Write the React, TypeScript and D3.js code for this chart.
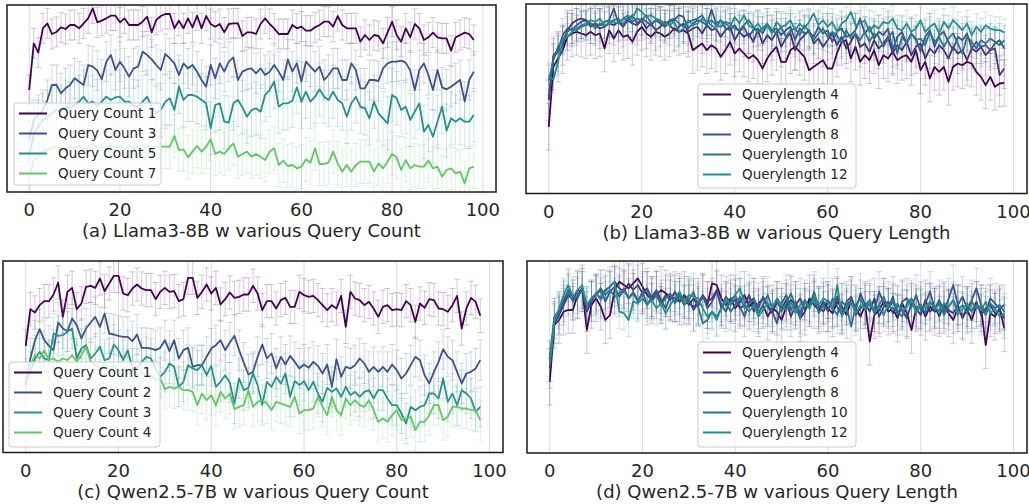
import React from "react";
import * as d3 from "d3";

// x axis: training step index 0..98
const steps = d3.range(99);
const xTicks = [0, 20, 40, 60, 80, 100];

// ---- (a) Llama3-8B, query count ----
const llamaCountNames = ["Query Count 1", "Query Count 3", "Query Count 5", "Query Count 7"];
const llamaCount1 = [30.6, 44.6, 41.8, 49.1, 50.6, 47.4, 48.0, 49.4, 48.9, 50.1,
  50.1, 49.1, 50.6, 52.1, 55.1, 50.9, 51.4, 52.1, 52.9, 52.9,
  50.9, 52.1, 50.1, 50.1, 50.1, 51.1, 52.6, 47.9, 51.6, 52.8,
  53.4, 53.4, 49.1, 51.4, 49.1, 52.1, 49.4, 52.9, 49.1, 52.8,
  50.4, 49.6, 50.4, 47.9, 50.4, 50.6, 50.6, 46.8, 47.9, 47.9,
  47.4, 50.4, 52.1, 50.4, 49.1, 47.4, 47.4, 47.4, 50.1, 49.1,
  49.6, 48.4, 48.4, 49.4, 50.1, 51.1, 51.1, 49.6, 52.8, 50.1,
  49.1, 49.1, 49.1, 45.1, 47.1, 45.6, 47.1, 46.8, 44.6, 47.9,
  51.1, 47.1, 45.1, 49.1, 46.4, 50.4, 49.1, 45.6, 46.4, 47.8,
  46.4, 46.1, 46.1, 42.4, 46.4, 47.1, 47.8, 47.4, 45.6];
const llamaCount3 = [15.6, 21.6, 23.1, 24.6, 27.6, 32.1, 32.1, 29.6, 31.1, 32.1,
  34.1, 33.1, 32.1, 38.1, 37.6, 36.4, 33.8, 39.1, 41.1, 36.6,
  39.1, 37.1, 34.6, 37.1, 37.6, 42.1, 41.1, 39.8, 38.1, 36.6,
  41.4, 40.1, 38.6, 35.1, 38.6, 37.1, 38.1, 36.1, 33.6, 31.6,
  38.1, 34.1, 38.6, 36.1, 39.1, 40.4, 33.6, 36.1, 36.8, 37.1,
  35.6, 37.1, 35.1, 36.1, 38.1, 36.1, 33.6, 39.8, 36.1, 38.6,
  33.1, 39.1, 37.6, 36.1, 37.6, 33.6, 35.1, 37.1, 37.1, 33.6,
  33.6, 38.6, 36.6, 31.1, 31.1, 33.6, 33.6, 33.3, 37.1, 38.6,
  39.1, 39.1, 39.4, 38.8, 36.4, 30.6, 36.6, 38.6, 35.1, 30.6,
  36.6, 31.4, 30.8, 31.6, 32.6, 33.6, 27.1, 33.6, 36.1];
const llamaCount5 = [10.6, 17.6, 19.6, 21.6, 22.6, 23.6, 24.6, 24.1, 25.6, 25.1, 26.1, 27.1,
  28.6, 26.6, 27.1, 25.8, 27.1, 28.6, 27.6, 28.4, 28.6, 27.1,
  27.1, 25.8, 25.6, 27.1, 28.6, 25.6, 23.6, 24.6, 27.1, 28.1,
  24.6, 31.6, 27.6, 29.1, 29.1, 28.6, 27.6, 26.6, 19.1, 26.1,
  26.6, 21.1, 20.8, 26.6, 27.6, 25.4, 22.6, 24.6, 25.1, 24.1,
  29.1, 30.6, 33.1, 25.6, 26.6, 26.6, 27.4, 31.4, 27.1, 30.1,
  27.1, 28.6, 30.8, 28.6, 27.6, 30.1, 27.6, 26.6, 22.6, 26.6,
  28.6, 25.6, 25.1, 22.1, 27.1, 23.6, 22.1, 20.6, 29.1, 28.1,
  24.6, 25.6, 21.6, 24.1, 26.6, 18.1, 20.1, 16.6, 21.1, 25.6,
  18.4, 22.1, 21.1, 22.1, 21.1, 21.1, 23.1];
const llamaCount7 = [4.6, 9.6, 10.6, 12.1, 12.6, 13.1, 13.6, 12.8, 12.1, 13.6,
  13.1, 13.8, 12.6, 13.4, 14.6, 13.1, 13.6, 12.8, 14.1, 13.1,
  13.6, 12.6, 13.8, 13.1, 13.6, 12.4, 14.1, 13.1, 13.6,
  13.6, 13.6, 13.6, 16.8, 12.6, 12.8, 10.4, 12.1, 13.8, 12.1,
  13.6, 15.8, 11.4, 12.1, 11.4, 13.1, 14.6, 10.6, 11.4, 12.1,
  10.6, 11.4, 10.6, 9.6, 12.1, 13.1, 8.1, 9.4, 7.8, 8.1,
  7.1, 7.6, 9.8, 8.8, 13.1, 8.4, 8.4, 8.8, 12.1, 8.6,
  6.1, 8.1, 6.1, 8.1, 9.1, 9.1, 9.1, 6.1, 8.6, 7.1,
  9.1, 11.4, 10.4, 6.6, 9.6, 7.1, 8.1, 7.6, 7.6, 9.4,
  7.1, 7.6, 4.6, 6.6, 7.1, 5.6, 6.1, 2.6, 7.1, 7.6];
const llamaCountErr = [4.5, 6, 8, 6.5];

// ---- (b) Llama3-8B, query length ----
const lengthNames = ["Querylength 4", "Querylength 6", "Querylength 8", "Querylength 10", "Querylength 12"];
const llamaLen4 = [20.0, 38.0, 40.5, 43.0, 47.0, 48.0, 48.5, 48.0, 47.5, 48.5,
  47.5, 48.0, 43.5, 49.0, 46.5, 49.0, 47.0, 47.5, 45.5, 48.5,
  50.0, 48.0, 47.0, 48.5, 48.0, 47.0, 48.0, 49.5, 48.5, 49.0,
  48.0, 43.0, 44.0, 45.0, 43.0, 44.5, 43.5, 41.0, 43.0, 45.5,
  42.0, 43.5, 42.0, 40.5, 41.5, 40.0, 37.5, 40.5, 42.5, 44.0,
  39.5, 39.5, 43.0, 44.0, 42.5, 41.0, 37.0, 38.0, 39.0, 40.0,
  37.5, 37.5, 42.0, 45.5, 46.0, 40.5, 44.0, 39.5, 41.5, 40.0,
  43.0, 38.5, 41.5, 40.5, 42.5, 40.0, 41.0, 41.5, 39.5, 43.0,
  37.0, 39.5, 34.5, 38.0, 36.5, 38.0, 33.5, 38.0, 39.0, 38.5,
  39.5, 39.0, 36.5, 35.0, 32.5, 35.0, 32.0, 33.0, 33.2];
const llamaLen6 = [28.0, 41.0, 42.5, 44.5, 49.0, 51.0, 52.0, 52.5, 52.0, 51.0,
  50.5, 49.5, 50.0, 51.0, 50.5, 51.5, 50.0, 52.0, 51.0, 50.5,
  52.0, 49.5, 51.0, 49.0, 50.0, 51.5, 50.5, 49.0, 50.0, 51.0,
  48.5, 49.5, 50.0, 48.0, 50.5, 49.0, 49.5, 47.0, 49.0, 50.0,
  46.0, 48.5, 47.0, 48.0, 45.5, 49.0, 45.0, 47.5, 46.0, 48.5,
  44.0, 46.5, 48.0, 43.0, 46.0, 47.5, 49.0, 45.0, 46.5, 44.0,
  46.0, 48.0, 44.5, 47.0, 43.5, 45.5, 48.0, 44.0, 45.0, 42.5,
  46.0, 43.5, 45.0, 47.0, 42.0, 44.5, 43.0, 45.5, 41.5, 44.0,
  45.0, 40.5, 43.5, 42.0, 44.5, 43.0, 40.5, 44.0, 42.0, 43.0,
  40.0, 43.5, 42.5, 44.0, 41.5, 43.0, 43.5, 35.5, 37.5];
const llamaLen8 = [29.0, 41.5, 43.0, 47.5, 49.5, 49.0, 50.5, 51.5, 52.0, 50.0,
  51.0, 50.5, 51.5, 52.0, 55.5, 51.0, 52.5, 52.0, 53.5, 51.0,
  52.5, 51.5, 50.5, 52.0, 51.0, 50.0, 51.5, 52.0, 53.5, 53.0,
  49.5, 51.0, 52.0, 51.5, 50.5, 55.2, 51.0, 52.0, 49.5, 49.0,
  50.5, 48.5, 50.0, 47.0, 49.0, 49.5, 48.0, 50.5, 48.5, 49.5,
  47.5, 49.0, 50.0, 46.0, 49.5, 48.0, 48.5, 47.0, 50.0, 48.0,
  49.0, 45.5, 48.5, 49.5, 47.0, 47.5, 49.0, 52.5, 48.0, 50.0,
  46.5, 48.5, 47.5, 49.5, 43.0, 47.0, 48.5, 45.0, 48.0, 46.5,
  42.5, 47.0, 49.0, 44.0, 47.5, 48.5, 45.5, 43.0, 47.0, 46.0,
  48.0, 43.5, 45.5, 44.0, 44.5, 43.0, 45.0, 46.0, 43.5];
const llamaLen10 = [34.0, 40.0, 44.0, 46.0, 48.5, 49.5, 49.0, 50.0, 50.5, 51.0,
  49.5, 51.0, 50.0, 51.5, 52.0, 52.5, 50.5, 53.0, 51.5, 52.5,
  52.0, 53.5, 51.0, 52.0, 51.5, 50.5, 52.0, 52.5, 51.0, 50.0,
  51.5, 52.0, 52.5, 53.5, 51.0, 52.0, 50.5, 50.0, 51.5, 51.0,
  49.5, 49.0, 50.5, 52.0, 50.0, 48.5, 49.5, 51.0, 49.0, 48.0,
  50.0, 47.0, 49.0, 49.5, 47.5, 50.5, 48.5, 46.0, 48.0, 49.5,
  47.0, 48.5, 47.5, 45.0, 49.0, 46.5, 48.0, 46.0, 48.5, 45.5,
  48.0, 47.0, 44.0, 46.5, 48.5, 42.0, 47.0, 45.0, 48.0, 46.0,
  46.5, 44.5, 48.5, 45.5, 47.0, 44.0, 46.5, 48.0, 45.0, 42.0,
  47.0, 45.5, 43.5, 46.0, 45.0, 46.5, 45.5, 44.5, 46.0];
const llamaLen12 = [35.2, 34.2, 39.5, 46.0, 47.0, 48.5, 49.5, 50.5, 51.0, 52.0,
  51.5, 52.5, 50.5, 51.0, 51.5, 51.0, 52.5, 53.5, 52.5, 55.5,
  54.5, 53.0, 53.5, 52.5, 52.0, 51.0, 50.5, 51.5, 48.5, 49.5,
  52.0, 50.5, 51.0, 52.5, 51.5, 50.5, 49.5, 52.0, 51.0, 50.0,
  53.0, 51.0, 53.5, 50.5, 49.5, 51.0, 49.0, 50.5, 48.0, 51.5,
  50.0, 50.5, 52.0, 49.0, 51.0, 49.5, 51.5, 54.0, 50.5, 52.0,
  50.0, 51.5, 48.5, 51.0, 52.0, 54.5, 50.5, 51.0, 52.0, 48.5,
  50.5, 49.5, 51.5, 51.0, 52.5, 49.5, 49.0, 51.0, 48.5, 49.5,
  52.0, 48.5, 50.0, 51.0, 48.0, 51.5, 49.5, 52.0, 50.5, 49.0,
  51.0, 47.5, 50.0, 48.5, 50.5, 49.5, 49.0, 49.0, 48.3];
const llamaLenErr = [7, 6, 5, 4.5, 4];

// ---- (c) Qwen2.5-7B, query count ----
const qwenCountNames = ["Query Count 1", "Query Count 2", "Query Count 3", "Query Count 4"];
const qwenCount1 = [32.0, 43.0, 42.0, 44.2, 45.4, 45.4, 47.4, 51.0, 40.7, 48.2,
  49.4, 43.0, 44.7, 49.7, 50.0, 49.4, 52.2, 48.4, 50.7, 53.0,
  53.0, 47.7, 47.2, 49.2, 50.4, 49.2, 48.7, 48.7, 46.0, 48.2,
  49.4, 48.2, 48.4, 45.4, 46.0, 52.4, 52.4, 46.4, 48.2, 50.4,
  47.7, 49.4, 44.4, 46.0, 48.0, 46.4, 46.7, 47.4, 47.4, 50.0,
  47.7, 42.7, 45.4, 45.4, 43.2, 45.7, 46.4, 43.7, 43.7, 48.2,
  47.2, 46.7, 47.0, 45.7, 44.2, 42.7, 44.2, 43.2, 47.0, 37.7,
  48.2, 46.2, 45.7, 44.2, 45.2, 43.2, 40.7, 43.7, 44.2, 42.7,
  43.0, 42.7, 45.4, 44.2, 39.2, 44.7, 43.4, 46.0, 45.7, 43.2,
  43.0, 42.2, 44.2, 47.0, 37.2, 43.2, 46.4, 45.2, 41.0];
const qwenCount2 = [20.2, 28.2, 33.7, 37.0, 33.7, 32.0, 30.7, 39.0, 37.2, 36.4,
  40.2, 38.2, 34.2, 37.2, 39.0, 40.7, 37.7, 41.7, 35.7, 35.4,
  35.0, 34.7, 34.7, 33.4, 35.4, 31.4, 31.4, 31.2, 30.7, 31.4,
  33.7, 30.4, 33.7, 28.2, 30.7, 31.4, 25.7, 26.2, 26.2, 28.7,
  31.2, 32.2, 33.7, 30.7, 33.0, 35.0, 30.7, 27.0, 23.4, 24.2,
  28.7, 32.4, 28.2, 29.7, 25.2, 28.7, 26.4, 29.0, 27.2, 25.2,
  26.4, 25.4, 27.2, 26.0, 23.7, 26.4, 19.7, 28.0, 22.7, 25.7,
  25.2, 26.2, 28.2, 26.7, 24.2, 25.7, 24.2, 25.7, 24.2, 26.4,
  24.7, 22.2, 23.7, 26.2, 28.7, 27.7, 23.2, 20.7, 24.2, 27.2,
  31.0, 28.7, 27.7, 24.2, 20.7, 23.7, 24.2, 25.2, 27.7];
const qwenCount3 = [21.2, 24.2, 28.2, 30.2, 28.2, 27.7, 35.7, 35.0, 35.2, 36.2,
  37.2, 28.2, 31.2, 32.2, 28.2, 29.7, 31.7, 27.7, 28.2, 32.4,
  30.7, 27.7, 30.7, 25.2, 25.2, 27.2, 28.7, 28.2, 25.2, 22.7,
  24.2, 26.7, 25.7, 19.7, 21.2, 26.2, 25.2, 24.7, 26.2, 23.2,
  26.0, 19.7, 21.2, 23.2, 21.0, 14.7, 22.2, 18.7, 19.4, 23.7,
  20.2, 14.2, 21.2, 19.7, 22.7, 20.7, 23.7, 16.7, 21.4, 20.2,
  21.4, 18.7, 21.2, 17.7, 15.2, 19.4, 18.2, 19.2, 16.7, 19.7,
  17.2, 18.2, 16.7, 18.2, 18.7, 16.2, 18.7, 18.7, 16.2, 14.2,
  14.2, 11.7, 8.7, 13.7, 12.7, 13.7, 14.2, 17.7, 17.7, 16.2,
  22.2, 15.2, 17.7, 14.2, 18.7, 17.7, 16.2, 12.2, 13.7];
const qwenCount4 = [22.2, 26.2, 29.2, 28.2, 30.7, 27.7, 28.2, 27.2, 28.2, 27.7,
  29.2, 27.2, 29.2, 31.7, 27.2, 26.2, 25.2, 26.7, 24.7, 26.2,
  24.2, 25.2, 23.7, 24.7, 23.2, 24.2, 22.7, 23.2, 21.7, 22.2,
  19.0, 19.7, 19.2, 19.7, 18.7, 18.7, 18.2, 14.2, 17.7, 15.7,
  17.2, 14.2, 18.2, 16.2, 17.7, 13.0, 13.7, 14.2, 18.7, 13.7,
  15.2, 15.7, 14.7, 12.7, 15.2, 14.7, 14.2, 13.7, 16.7, 11.7,
  12.7, 12.7, 13.2, 16.7, 13.7, 11.2, 16.7, 12.7, 11.2, 16.2,
  14.2, 15.7, 14.2, 13.7, 15.7, 12.7, 9.2, 10.2, 9.2, 11.2,
  12.7, 9.7, 10.2, 10.7, 6.7, 9.2, 9.2, 11.2, 14.2, 14.2,
  9.7, 10.7, 13.7, 13.7, 13.2, 13.2, 12.7, 12.7, 9.7];
const qwenCountErr = [5, 6, 6, 6];

// ---- (d) Qwen2.5-7B, query length ----
const qwenLen4 = [21.4, 38.4, 39.9, 42.4, 42.9, 42.9, 47.4, 49.4, 36.9, 44.4,
  46.4, 43.9, 39.9, 41.4, 48.9, 51.4, 50.4, 49.4, 50.9, 52.4,
  49.9, 47.4, 45.9, 47.4, 48.9, 47.9, 46.9, 46.4, 45.4, 47.4,
  45.9, 43.4, 45.4, 46.9, 44.4, 50.9, 50.4, 46.4, 44.4, 46.4,
  43.4, 45.4, 47.4, 43.9, 45.4, 41.9, 44.4, 40.9, 43.4, 42.4,
  39.9, 43.9, 45.9, 44.4, 40.4, 42.4, 46.4, 44.4, 42.9, 45.4,
  43.4, 41.9, 45.4, 43.9, 41.4, 45.9, 43.4, 40.9, 44.4, 33.4,
  41.4, 42.9, 45.4, 42.4, 43.4, 40.4, 44.9, 41.9, 36.9, 43.4,
  44.4, 40.9, 43.9, 42.4, 42.9, 44.4, 41.9, 39.9, 43.4, 40.9,
  42.9, 39.9, 44.4, 43.4, 32.4, 41.9, 40.9, 43.4, 37.4];
const qwenLen6 = [25.4, 38.9, 41.4, 44.4, 47.4, 45.9, 48.9, 48.4, 42.4, 45.4,
  47.9, 46.4, 48.9, 49.9, 51.4, 49.4, 48.4, 50.9, 48.9, 50.4,
  47.9, 49.4, 46.4, 48.4, 44.9, 47.4, 45.9, 48.4, 45.4, 46.9,
  44.4, 46.4, 43.9, 47.4, 45.4, 46.4, 48.9, 43.4, 46.9, 44.9,
  45.9, 43.4, 44.4, 47.4, 42.4, 44.9, 46.4, 43.9, 41.9, 45.4,
  43.4, 45.9, 40.9, 44.4, 46.4, 42.9, 44.9, 47.4, 43.9, 42.4,
  45.4, 43.4, 46.9, 41.9, 44.4, 45.9, 41.4, 43.4, 44.9, 42.4,
  46.4, 40.9, 43.9, 45.4, 41.9, 44.4, 42.9, 40.4, 44.9, 43.4,
  41.4, 45.9, 42.4, 43.9, 40.9, 44.9, 42.9, 41.9, 44.4, 40.4,
  43.9, 42.4, 45.4, 41.4, 43.4, 44.4, 41.9, 42.9, 40.4];
const qwenLen8 = [27.4, 40.4, 41.9, 45.4, 48.9, 46.9, 46.4, 49.4, 43.9, 45.9,
  47.4, 48.9, 45.4, 48.4, 49.9, 46.9, 48.9, 46.4, 47.9, 45.4,
  48.4, 44.4, 46.9, 48.9, 45.9, 43.4, 46.9, 45.4, 47.9, 44.4,
  45.9, 42.9, 44.9, 47.4, 43.4, 45.4, 48.4, 44.4, 42.4, 45.9,
  47.4, 43.9, 40.9, 45.4, 46.4, 43.4, 46.9, 44.4, 42.4, 38.9,
  44.9, 47.4, 42.9, 45.4, 41.9, 45.9, 43.9, 48.4, 43.4, 44.9,
  42.4, 46.4, 43.9, 41.4, 45.4, 46.9, 42.9, 47.9, 44.4, 45.9,
  42.4, 48.4, 44.9, 43.4, 46.9, 41.4, 45.4, 46.4, 43.9, 47.4,
  42.9, 44.9, 48.4, 43.4, 45.9, 42.4, 46.4, 50.4, 44.4, 46.9,
  43.4, 45.9, 49.4, 44.4, 42.4, 46.4, 44.9, 43.4, 44.4];
const qwenLen10 = [28.4, 40.9, 42.9, 46.4, 48.4, 45.4, 47.4, 48.9, 44.4, 46.4,
  47.9, 49.4, 47.4, 48.9, 46.9, 47.9, 49.4, 46.4, 48.4, 45.9,
  47.4, 48.9, 45.4, 47.4, 44.4, 46.4, 47.9, 44.9, 46.9, 44.4,
  45.9, 48.4, 43.9, 38.9, 39.9, 42.4, 40.9, 43.4, 45.4, 42.4,
  44.4, 46.9, 43.4, 44.9, 45.9, 41.9, 44.4, 47.4, 43.4, 45.9,
  42.4, 44.9, 47.9, 43.9, 40.4, 45.4, 43.4, 46.4, 41.9, 44.4,
  45.9, 43.4, 41.4, 45.4, 43.9, 37.9, 44.4, 46.4, 42.9, 44.9,
  41.9, 44.4, 46.9, 43.4, 45.4, 42.4, 40.9, 44.9, 46.4, 43.4,
  44.4, 41.9, 45.4, 42.9, 44.9, 41.4, 43.9, 45.9, 42.9, 44.4,
  41.9, 45.4, 43.4, 43.9, 41.4, 44.9, 43.4, 44.4, 42.4];
const qwenLen12 = [26.4, 39.4, 43.4, 47.4, 50.4, 46.9, 48.9, 50.4, 44.4, 46.4,
  47.9, 45.9, 48.4, 49.9, 51.4, 42.4, 41.9, 39.9, 45.4, 44.9,
  46.4, 44.4, 45.9, 43.4, 44.9, 41.9, 44.4, 46.4, 48.4, 45.4,
  47.4, 46.9, 46.4, 43.4, 40.9, 42.4, 39.9, 43.4, 46.4, 44.4,
  47.4, 49.4, 44.9, 42.4, 44.4, 40.9, 42.9, 44.9, 43.9, 46.4,
  44.4, 42.9, 45.4, 41.9, 44.4, 45.9, 43.4, 47.4, 44.4, 46.4,
  45.4, 42.9, 50.4, 40.9, 43.9, 45.4, 41.9, 44.4, 43.4, 45.9,
  42.4, 43.9, 41.4, 44.4, 42.9, 44.9, 42.4, 43.9, 45.9, 41.9,
  44.4, 43.4, 45.4, 43.9, 42.4, 44.9, 43.9, 45.9, 41.4, 43.4,
  44.9, 42.4, 44.4, 42.9, 45.4, 41.9, 43.4, 40.9, 41.9];
const qwenLenErr = [7, 6, 6, 5.5, 5];

const textColor = "#262626";
const font = "DejaVu Sans, sans-serif";

type Series = { name: string; values: number[]; err: number; color: string };

type PanelProps = {
  id: string;
  left: number; right: number; top: number; bottom: number;
  yMax: number;
  series: Series[];
  legend: { x: number; y: number; w: number; h: number };
  caption: string;
};

function makeSeries(names: string[], values: number[][], errs: number[], colorStep: number): Series[] {
  return names.map((name, i) => ({
    name,
    values: values[i],
    err: errs[i],
    color: d3.interpolateViridis(i * colorStep),
  }));
}

const Panel = ({ id, left, right, top, bottom, yMax, series, legend, caption }: PanelProps) => {
  const x = d3.scaleLinear().domain([-4.9, 102.9]).range([left, right]);
  const y = d3.scaleLinear().domain([0, yMax]).range([bottom, top]);
  const line = d3.line<number>().x((_, i) => x(steps[i])).y((v) => y(v));
  const cap = 3;

  return (
    <g>
      <defs>
        <clipPath id={id}>
          <rect x={left} y={top} width={right - left} height={bottom - top} />
        </clipPath>
      </defs>
      <rect x={left} y={top} width={right - left} height={bottom - top} fill="#fff" />
      {xTicks.map((t) => (
        <line key={t} x1={x(t)} x2={x(t)} y1={top} y2={bottom} stroke="#dcdcdc" strokeWidth={1} />
      ))}
      <g clipPath={`url(#${id})`}>
        {series.map((s) => (
          <g key={s.name}>
            <g stroke={s.color} strokeOpacity={0.22} strokeWidth={1}>
              {s.values.map((v, i) => {
                const cx = x(steps[i]);
                const y0 = y(v - s.err);
                const y1 = y(v + s.err);
                return (
                  <g key={i}>
                    <line x1={cx} x2={cx} y1={y0} y2={y1} />
                    <line x1={cx - cap} x2={cx + cap} y1={y0} y2={y0} />
                    <line x1={cx - cap} x2={cx + cap} y1={y1} y2={y1} />
                  </g>
                );
              })}
            </g>
            <path d={line(s.values) || ""} fill="none" stroke={s.color} strokeWidth={1.8} strokeLinejoin="round" />
          </g>
        ))}
      </g>
      <rect x={left} y={top} width={right - left} height={bottom - top} fill="none" stroke="#1a1a1a" strokeWidth={1.5} />
      {xTicks.map((t) => (
        <text key={t} x={x(t)} y={bottom + 24} textAnchor="middle" fontSize={18} fill={textColor} fontFamily={font}>
          {t}
        </text>
      ))}
      <text x={(left + right) / 2} y={bottom + 45} textAnchor="middle" fontSize={18} fill={textColor} fontFamily={font}>
        {caption}
      </text>
      <rect x={legend.x} y={legend.y} width={legend.w} height={legend.h} rx={3} fill="#fff" fillOpacity={0.8} stroke="#cccccc" strokeWidth={1} />
      {series.map((s, i) => {
        const ly = legend.y + 10.5 + i * 20;
        return (
          <g key={s.name}>
            <line x1={legend.x + 5} x2={legend.x + 33} y1={ly} y2={ly} stroke={s.color} strokeWidth={2} />
            <text x={legend.x + 44} y={ly + 4.5} fontSize={13.5} fill={textColor} fontFamily={font}>
              {s.name}
            </text>
          </g>
        );
      })}
    </g>
  );
};

export default function App() {
  const panels: PanelProps[] = [
    {
      id: "clipA", left: 7, right: 496, top: 5, bottom: 192, yMax: 56.1,
      series: makeSeries(llamaCountNames, [llamaCount1, llamaCount3, llamaCount5, llamaCount7], llamaCountErr, 0.25),
      legend: { x: 14, y: 103, w: 147, h: 82 },
      caption: "(a) Llama3-8B w various Query Count",
    },
    {
      id: "clipB", left: 526, right: 1027, top: 4, bottom: 193.5, yMax: 56.85,
      series: makeSeries(lengthNames, [llamaLen4, llamaLen6, llamaLen8, llamaLen10, llamaLen12], llamaLenErr, 0.125),
      legend: { x: 698, y: 84, w: 158, h: 104 },
      caption: "(b) Llama3-8B w various Query Length",
    },
    {
      id: "clipC", left: 3, right: 503, top: 261, bottom: 452.5, yMax: 57.45,
      series: makeSeries(qwenCountNames, [qwenCount1, qwenCount2, qwenCount3, qwenCount4], qwenCountErr, 0.25),
      legend: { x: 9, y: 362, w: 151, h: 85 },
      caption: "(c) Qwen2.5-7B w various Query Count",
    },
    {
      id: "clipD", left: 527, right: 1027, top: 261, bottom: 453, yMax: 57.6,
      series: makeSeries(lengthNames, [qwenLen4, qwenLen6, qwenLen8, qwenLen10, qwenLen12], qwenLenErr, 0.125),
      legend: { x: 698, y: 342, w: 158, h: 105 },
      caption: "(d) Qwen2.5-7B w various Query Length",
    },
  ];

  return (
    <svg width={1029} height={504} style={{ position: "absolute", left: 0, top: 0, background: "#fff" }}>
      {panels.map((p) => (
        <Panel key={p.id} {...p} />
      ))}
    </svg>
  );
}
